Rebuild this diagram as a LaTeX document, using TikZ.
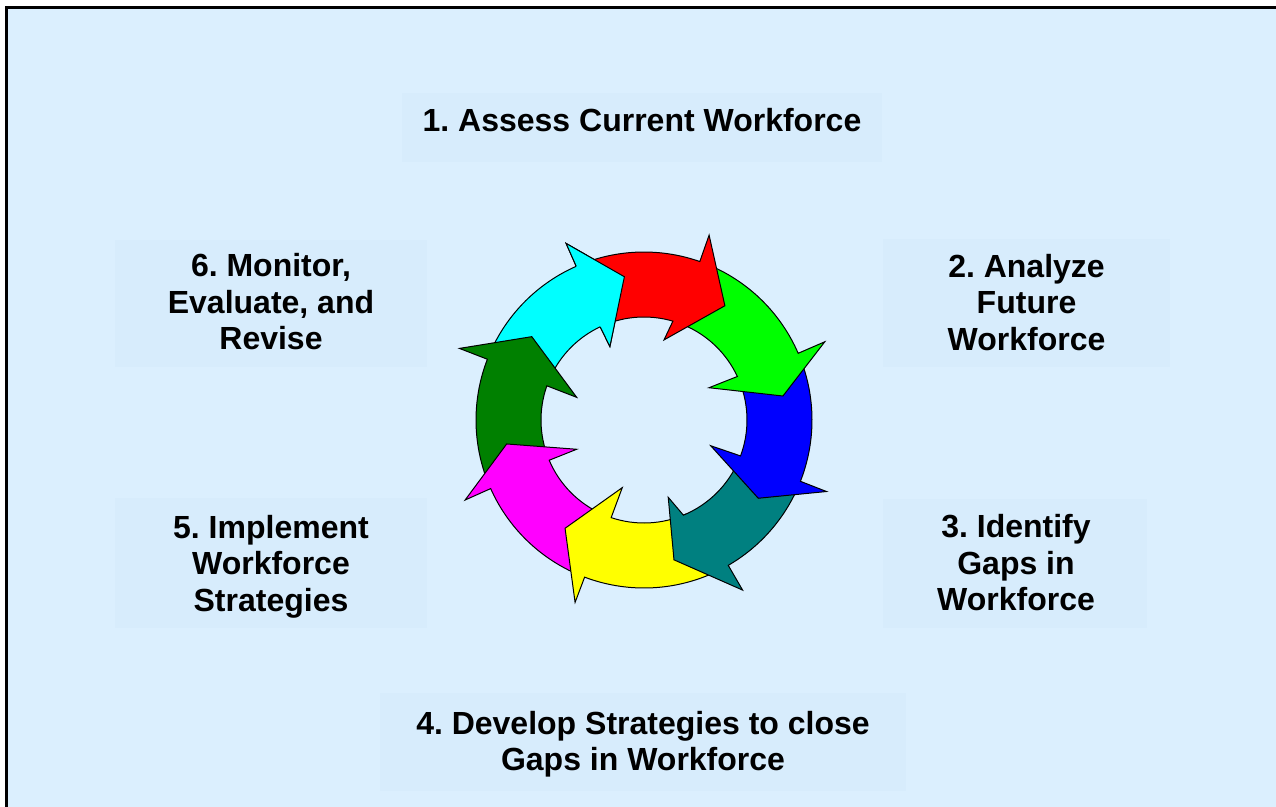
\documentclass[tikz,border=0pt]{standalone}
\usepackage{fontspec}
\setmainfont{Liberation Sans}
\usepackage{tikz}
\frenchspacing

\definecolor{sheet}{RGB}{219,239,254}
\definecolor{panelblue}{RGB}{215,236,252}
\definecolor{ringred}{RGB}{255,0,0}
\definecolor{ringlime}{RGB}{0,255,0}
\definecolor{ringblue}{RGB}{0,0,255}
\definecolor{ringteal}{RGB}{0,128,128}
\definecolor{ringyellow}{RGB}{255,255,0}
\definecolor{ringmagenta}{RGB}{255,0,255}
\definecolor{ringleaf}{RGB}{0,128,0}
\definecolor{ringcyan}{RGB}{0,255,255}

\begin{document}
\begin{tikzpicture}[x = 1pt, y = 1pt,
        panel/.style = {fill = panelblue, inner sep = 0pt},
        caption/.style = {font = \fontsize{32}{36.5}\selectfont\bfseries, align = center, inner sep = 0pt},
        ring/.style = {draw = black, line width = 1pt}]
        \useasboundingbox (0,0) rectangle (1276,-806);
        \begin{scope}
            \clip (0,0) rectangle (1276,-806);
            \draw [line width = 2.5pt, fill = sheet] (6.5,-7.5) rectangle (1290,-820);
        \end{scope}

        \node [panel, minimum width = 480pt, minimum height = 69pt] (assessbox) at (642,-127.5) {};
        \node [panel, minimum width = 287pt, minimum height = 128pt] (analyzebox) at (1026.5,-303) {};
        \node [panel, minimum width = 264pt, minimum height = 129pt] (identifybox) at (1015,-563.5) {};
        \node [panel, minimum width = 526pt, minimum height = 98pt] (developbox) at (643,-741.5) {};
        \node [panel, minimum width = 312pt, minimum height = 130pt] (implementbox) at (271,-563) {};
        \node [panel, minimum width = 312pt, minimum height = 127pt] (monitorbox) at (271,-303.5) {};

        \node [caption] (assess) at (642,-120.5) {1. Assess Current Workforce};
        \node [caption] (analyze) at (1026.5,-302.5) {2. Analyze\\Future\\Workforce};
        \node [caption] (identify) at (1016,-563) {3. Identify\\Gaps in\\Workforce};
        \node [caption] (develop) at (643,-744.4) {4. Develop Strategies to close\\Gaps in Workforce};
        \node [caption] (implement) at (271,-566.5) {5. Implement\\Workforce\\Strategies};
        \node [caption] (monitor) at (271,-302) {6. Monitor,\\Evaluate, and\\Revise};

        \begin{scope}[shift = {(644,-420)}]
            \filldraw [ring, fill = ringcyan] (155.4:168) arc[start angle = 155.4, end angle = 113.8, radius = 168] -- (113.8:193) -- (97.8:144.6) -- (114.9:81) -- (115.2:103) arc[start angle = 115.2, end angle = 155.4, radius = 103] -- cycle;
            \filldraw [ring, fill = ringleaf] (-158.1:168) arc[start angle = -158.1, end angle = -201.2, radius = 168] -- (-201.2:198) -- (-216.6:139.8) -- (-198.6:71) -- (-199.4:103) arc[start angle = -199.4, end angle = -158.1, radius = 103] -- cycle;
            \filldraw [ring, fill = ringmagenta] (-114.1:168) arc[start angle = -114.1, end angle = -155.9, radius = 168] -- (-155.9:196) -- (-170.1:139.4) -- (-156.5:73.4) -- (-157:103) arc[start angle = -157, end angle = -114.1, radius = 103] -- cycle;
            \filldraw [ring, fill = ringyellow] (-65.9:168) arc[start angle = -65.9, end angle = -110.7, radius = 168] -- (-110.7:195) -- (-126.1:134) -- (-107.8:71) -- (-108.6:103) arc[start angle = -108.6, end angle = -65.9, radius = 103] -- cycle;
            \filldraw [ring, fill = ringteal] (-22.4:168) arc[start angle = -22.4, end angle = -59.9, radius = 168] -- (-59.9:196.6) -- (-77.9:143) -- (-72.6:81) -- (-67.5:103) arc[start angle = -67.5, end angle = -22.4, radius = 103] -- cycle;
            \filldraw [ring, fill = ringblue] (21.8:168) arc[start angle = 21.8, end angle = -21.4, radius = 168] -- (-21.4:196) -- (-34.4:138.5) -- (-21.1:71.5) -- (-20.4:103) arc[start angle = -20.4, end angle = 21.8, radius = 103] -- cycle;
            \filldraw [ring, fill = ringlime] (66.7:168) arc[start angle = 66.7, end angle = 23.4, radius = 168] -- (23.4:197) -- (9.8:141) -- (26.4:72.6) -- (25:103) arc[start angle = 25, end angle = 66.7, radius = 103] -- cycle;
            \filldraw [ring, fill = ringred] (109.8:168) arc[start angle = 109.8, end angle = 70.6, radius = 168] -- (70.6:196) -- (54.7:140) -- (76:82.5) -- (73.7:103) arc[start angle = 73.7, end angle = 109.8, radius = 103] -- cycle;

            \fill [ringcyan] (113.8:168) -- (113.8:193) -- (97.8:144.6) -- (114.9:81) -- (115.2:103) -- cycle;
            \draw [ring] (113.8:168) -- (113.8:193) -- (97.8:144.6) -- (114.9:81) -- (115.2:103);
        \end{scope}
\end{tikzpicture}
\end{document}
